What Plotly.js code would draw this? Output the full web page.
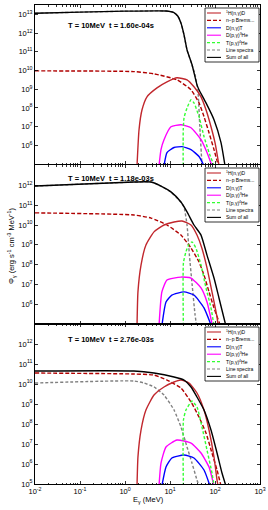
<!DOCTYPE html>
<html><head><meta charset="utf-8">
<script src="https://cdn.plot.ly/plotly-3.0.1.min.js"></script>
<style>html,body{margin:0;padding:0;background:#fff}#chart{width:268px;height:510px}</style>
</head><body><div id="chart"></div>
<script>
// ---------------- DATA (E in MeV, Phi in erg s^-1 cm^-3 MeV^-1) ----------------
const panelTitles = ["T = 10MeV  t = 1.60e-04s", "T = 10MeV  t = 1.18e-03s", "T = 10MeV  t = 2.76e-03s"];
const seriesNames = ["<sup>1</sup>H(n,\u03b3)D", "n\u2212p Brems...", "D(n,\u03b3)T", "D(p,\u03b3)<sup>3</sup>He", "T(p,\u03b3)<sup>4</sup>He", "Line spectra", "Sum of all"];
const xTickLabels = ["10<sup>-2</sup>", "10<sup>-1</sup>", "10<sup>0</sup>", "10<sup>1</sup>", "10<sup>2</sup>", "10<sup>3</sup>"];

// Panel 1 (t = 1.60e-04 s)
const p1_H_E   = [1.85, 2.05, 2.39, 3.08, 5.14, 8.57, 14.3, 23.9, 34.1, 48.9, 63.1, 81.5, 100, 123];
const p1_H_F   = [8e4, 6.8e6, 7.9e7, 3.9e8, 1.17e9, 2.45e9, 4.07e9, 3.16e9, 1.35e9, 3.9e8, 7.9e7, 9.8e6, 1.38e6, 8e4];
const p1_B_E   = [0.01, 1.58, 4.41, 14.3, 29.3, 44.1, 57, 73.6, 95, 117];
const p1_B_F   = [9.5e9, 8.7e9, 6.6e9, 3.16e9, 9.3e8, 1.86e8, 3.4e7, 4.7e6, 5.9e5, 9.3e4];
const p1_DN_E  = [7.36, 8.57, 12.3, 18.5, 29.3, 44.1, 57];
const p1_DN_F  = [8e4, 4.1e5, 7.6e5, 8.5e5, 5.9e5, 2.5e5, 8e4];
const p1_DP_E  = [5.7, 6.31, 7.36, 10.5, 17.5, 29.3, 48.9, 66.4, 85.7];
const p1_DP_F  = [8e4, 5.9e5, 2.0e6, 9.8e6, 1.26e7, 8.7e6, 2.0e6, 4.1e5, 8e4];
const p1_TP_E  = [19.6, 19.7, 20.5, 23.9, 29.3, 34.1, 44.1, 57, 73.6, 95];
const p1_TP_F  = [8e4, 6.8e6, 2.95e7, 1e8, 2.7e8, 1.86e8, 3.4e7, 2.9e6, 4.1e5, 8e4];
const p1_L_E   = [0.01, 0.1, 1, 8.15, 12, 15, 17.5, 20.5, 23.9, 30.8, 36, 41.7, 46, 51.4];
const p1_L_F   = [1.14e13, 1.31e13, 1.47e13, 1.5e13, 1.25e13, 7.9e12, 3.45e12, 7.9e11, 1.25e11, 2.0e10, 6e9, 8e8, 1e7, 8e4];
const p1_S_E   = [0.01, 0.1, 1, 8.15, 12, 15, 17.5, 20.5, 23.9, 30.8, 39.8, 44.1, 63.1, 95, 136, 167];
const p1_S_F   = [1.15e13, 1.32e13, 1.48e13, 1.51e13, 1.26e13, 7.94e12, 3.47e12, 7.94e11, 1.26e11, 2.09e10, 1.7e9, 9.33e8, 1.86e8, 2.34e7, 1.38e6, 8e4];

// Panel 2 (t = 1.18e-03 s)
const p2_H_E   = [1.85, 1.94, 2.27, 2.92, 4.41, 7.36, 12.3, 18.5, 29.3, 39.8, 51, 66.4, 85.7, 111, 117];
const p2_H_F   = [8e4, 4.2e6, 9.5e7, 9.8e8, 4.5e9, 1e10, 1.41e10, 1.58e10, 1e10, 3.1e9, 6.9e8, 6.8e7, 4.2e6, 2.2e5, 8e4];
const p2_B_E   = [0.01, 1.58, 3.8, 8.57, 17.5, 29.3, 44.1, 57, 73.6, 95, 123, 130];
const p2_B_F   = [4.1e10, 3.2e10, 2.24e10, 1e10, 3.1e9, 6.9e8, 1.35e8, 2.95e7, 4.2e6, 6.5e5, 1.26e5, 8e4];
const p2_DN_E  = [6.6, 8.15, 11.0, 20.5, 34.1, 57, 83];
const p2_DN_F  = [8e4, 1.29e6, 2.9e6, 4.2e6, 2.9e6, 6.5e5, 8e4];
const p2_DP_E  = [5.7, 6.6, 8.57, 17.5, 29.3, 48.9, 66.4, 88];
const p2_DP_F  = [8e4, 4.2e6, 1.66e7, 2.34e7, 2.1e7, 6.6e6, 1.29e6, 8e4];
const p2_TP_E  = [19.8, 19.9, 22.6, 26, 30.8, 37.6, 48.9, 63.1, 81.5, 95];
const p2_TP_F  = [8e4, 1.26e8, 4.4e8, 1e9, 1.41e9, 6.9e8, 9.5e7, 6.6e6, 6.5e5, 8e4];
const p2_L_E   = [0.01, 1.58, 3.8, 6.31, 10.5, 17.5, 20.5, 23.9, 27, 31, 36, 39];
const p2_L_F   = [9.2e11, 1.47e12, 1.47e12, 9.2e11, 4.6e11, 1.4e11, 8e10, 1e10, 3e8, 1e7, 3e5, 8e4];
const p2_S_E   = [0.01, 1.58, 3.8, 6.31, 10.5, 17.5, 23.9, 34.1, 48.9, 66.4, 95, 123, 158, 175];
const p2_S_F   = [9.3e11, 1.48e12, 1.48e12, 9.3e11, 4.7e11, 1.45e11, 4.6e10, 1e10, 3.1e9, 3.0e8, 2.1e7, 2.0e6, 2.0e5, 8e4];

// Panel 3 (t = 2.76e-03 s)
const p3_H_E   = [1.85, 1.94, 2.27, 2.92, 4.41, 7.36, 12.3, 17.5, 26.4, 39.8, 57, 73.6, 95, 111, 117];
const p3_H_F   = [8e4, 2.24e6, 5e7, 5e8, 2.8e9, 7.1e9, 1.26e10, 1.58e10, 1.12e10, 3.55e9, 5e8, 5e7, 2.24e6, 1.58e5, 8e4];
const p3_B_E   = [0.01, 1.58, 4.41, 8.57, 17.5, 29.3, 44.1, 63.1, 85.7, 111, 136];
const p3_B_F   = [3.55e10, 3.16e10, 2.8e10, 1.58e10, 6.3e9, 1.26e9, 2.24e8, 3.55e7, 3.55e6, 5e5, 8e4];
const p3_DN_E  = [6.6, 8.15, 11.0, 20.5, 34.1, 57, 77.4];
const p3_DN_F  = [8e4, 7.1e5, 2.0e6, 2.8e6, 2.0e6, 5e5, 8e4];
const p3_DP_E  = [5.7, 6.31, 8.15, 14.3, 29.3, 48.9, 73.6, 95];
const p3_DP_F  = [8e4, 1.12e6, 7.1e6, 1.58e7, 1.12e7, 3.55e6, 7.1e5, 8e4];
const p3_TP_E  = [19.8, 19.9, 22.6, 29.3, 30.8, 39.8, 51.4, 66.4, 85.7, 95];
const p3_TP_F  = [8e4, 1.58e8, 5e8, 1.26e9, 1.41e9, 7.1e8, 7.1e7, 5e6, 3.55e5, 8e4];
const p3_L_E   = [0.01, 1.58, 2.64, 4.41, 7.36, 12.3, 17.5, 23.9, 30.8, 39.8, 44.1];
const p3_L_F   = [1.12e10, 1.41e10, 1.12e10, 7.1e9, 2.8e9, 5e8, 7.1e7, 7.1e6, 1.12e6, 1.58e5, 8e4];
const p3_S_E   = [0.01, 1.58, 4.41, 12.3, 20.5, 29.3, 39.8, 57, 81.5, 111, 143, 175];
const p3_S_F   = [4.5e10, 4.5e10, 3.55e10, 2.24e10, 1.58e10, 7.1e9, 2.24e9, 5e8, 5e7, 3.55e6, 3.55e5, 8e4];

// ---------------- STYLE ----------------
const styles = [
  {color:'#c1272d', dash:'solid'},
  {color:'#b00000', dash:'4px,2px'},
  {color:'#0000ff', dash:'solid'},
  {color:'#ff00ff', dash:'solid'},
  {color:'#33ff33', dash:'3px,2px'},
  {color:'#808080', dash:'3px,2px'},
  {color:'#000000', dash:'solid'}
];
const drawOrder = [5, 1, 0, 2, 3, 4, 6];
const panels = [
  [[p1_H_E,p1_H_F],[p1_B_E,p1_B_F],[p1_DN_E,p1_DN_F],[p1_DP_E,p1_DP_F],[p1_TP_E,p1_TP_F],[p1_L_E,p1_L_F],[p1_S_E,p1_S_F]],
  [[p2_H_E,p2_H_F],[p2_B_E,p2_B_F],[p2_DN_E,p2_DN_F],[p2_DP_E,p2_DP_F],[p2_TP_E,p2_TP_F],[p2_L_E,p2_L_F],[p2_S_E,p2_S_F]],
  [[p3_H_E,p3_H_F],[p3_B_E,p3_B_F],[p3_DN_E,p3_DN_F],[p3_DP_E,p3_DP_F],[p3_TP_E,p3_TP_F],[p3_L_E,p3_L_F],[p3_S_E,p3_S_F]]
];

// geometry in pixels
const W = 268, H = 510;
const L = 35, R = 260, T = 5, B = 484;
const px = x => (x - L) / (R - L);
const py = y => (B - y) / (B - T);
const panelTops = [5, 165, 324], panelBots = [164, 324, 484];
const yRanges = [[5, 13.5], [5, 13.03], [5, 13]];
const yLabelShow = [[6,13],[6,12],[5,12]];
const titleY = [25, 178, 339];

const FONT = 'Liberation Sans, Arial, sans-serif';
const traces = [];
panels.forEach((pan, k) => {
  const xa = k === 0 ? 'x' : 'x' + (k+1);
  const ya = k === 0 ? 'y' : 'y' + (k+1);
  drawOrder.forEach(i => {
    const s = pan[i];
    traces.push({x: s[0], y: s[1], xaxis: xa, yaxis: ya, type: 'scatter', mode: 'lines',
      line: {color: styles[i].color, dash: styles[i].dash, width: 1.4, shape: 'spline', smoothing: 0.5},
      name: seriesNames[i], showlegend: false, hoverinfo: 'skip'});
  });
});

const minorVals = [];
for (let d = -2; d < 3; d++) for (let m = 2; m <= 9; m++) minorVals.push(m * Math.pow(10, d));
const majorVals = [0.01, 0.1, 1, 10, 100, 1000];

const layout = {
  width: W, height: H, margin: {l: L, r: W - R, t: T, b: H - B},
  paper_bgcolor: '#fff', plot_bgcolor: '#fff', showlegend: false,
  font: {family: FONT, size: 7, color: '#000'},
  annotations: [], shapes: []
};
for (let k = 0; k < 3; k++) {
  const sfx = k === 0 ? '' : String(k+1);
  const d0 = py(panelBots[k]), d1 = py(panelTops[k]);
  const yv = [], yt = [];
  for (let e = 5; e <= 13; e++) { yv.push(Math.pow(10, e)); yt.push(e >= yLabelShow[k][0] && e <= yLabelShow[k][1] ? '10<sup>' + e + '</sup>' : ''); }
  layout['xaxis' + sfx] = {
    type: 'log', range: [-2, 3], anchor: 'y' + sfx, domain: [0, 1],
    showline: true, linecolor: '#000', linewidth: 1, mirror: 'allticks',
    ticks: 'inside', ticklen: 3, tickcolor: '#000', tickwidth: 0.8,
    tickmode: 'array', tickvals: majorVals, ticktext: xTickLabels,
    showticklabels: k === 2, showgrid: false, zeroline: false,
    tickfont: {family: FONT, size: 7.5, color: '#000'},
    minor: {tickmode: 'array', tickvals: minorVals, ticks: 'inside', ticklen: 1.5, tickcolor: '#000', tickwidth: 0.8, showgrid: false}
  };
  if (k > 0) layout['xaxis' + sfx].matches = 'x';
  layout['yaxis' + sfx] = {
    type: 'log', range: yRanges[k], anchor: 'x' + sfx, domain: [d0, d1],
    showline: true, linecolor: '#000', linewidth: 1, mirror: 'allticks',
    ticks: 'inside', ticklen: 3, tickcolor: '#000', tickwidth: 0.8,
    tickmode: 'array', tickvals: yv, ticktext: yt, showgrid: false, zeroline: false,
    tickfont: {family: FONT, size: 7.5, color: '#000'}
  };
  layout.annotations.push({xref: 'paper', yref: 'paper', x: px(111), y: py(titleY[k]), xanchor: 'center', yanchor: 'middle',
    text: '<b>' + panelTitles[k] + '</b>', showarrow: false, font: {family: FONT, size: 7.5, color: '#000'}});
  const top = panelTops[k] + 3;
  layout.shapes.push({type: 'rect', xref: 'paper', yref: 'paper', x0: px(205), x1: px(259), y0: py(top), y1: py(top + 54),
    line: {color: '#000', width: 0.8}, fillcolor: '#fff', layer: 'above'});
  seriesNames.forEach((nm, i) => {
    const yy = top + 5 + i * 7.4;
    layout.shapes.push({type: 'line', xref: 'paper', yref: 'paper', x0: px(207), x1: px(221), y0: py(yy), y1: py(yy),
      line: {color: styles[i].color, width: 1.1, dash: styles[i].dash}, layer: 'above'});
    layout.annotations.push({xref: 'paper', yref: 'paper', x: px(223.5), y: py(yy), xanchor: 'left', yanchor: 'middle',
      text: nm, showarrow: false, font: {family: FONT, size: 5, color: '#000'}});
  });
}
layout.annotations.push({xref: 'paper', yref: 'paper', x: px(148), y: py(500), xanchor: 'center', yanchor: 'middle',
  text: 'E<sub>\u03b3</sub> (MeV)', showarrow: false, font: {family: FONT, size: 7.5, color: '#000'}});
layout.annotations.push({xref: 'paper', yref: 'paper', x: px(11), y: py(246), xanchor: 'center', yanchor: 'middle', textangle: -90,
  text: '\u03a6<sub>\u03b3</sub> (erg s<sup>-1</sup> cm<sup>-3</sup> MeV<sup>-1</sup>)', showarrow: false, font: {family: FONT, size: 7.5, color: '#000'}});

Plotly.newPlot('chart', traces, layout, {staticPlot: true, displayModeBar: false});
</script></body></html>
